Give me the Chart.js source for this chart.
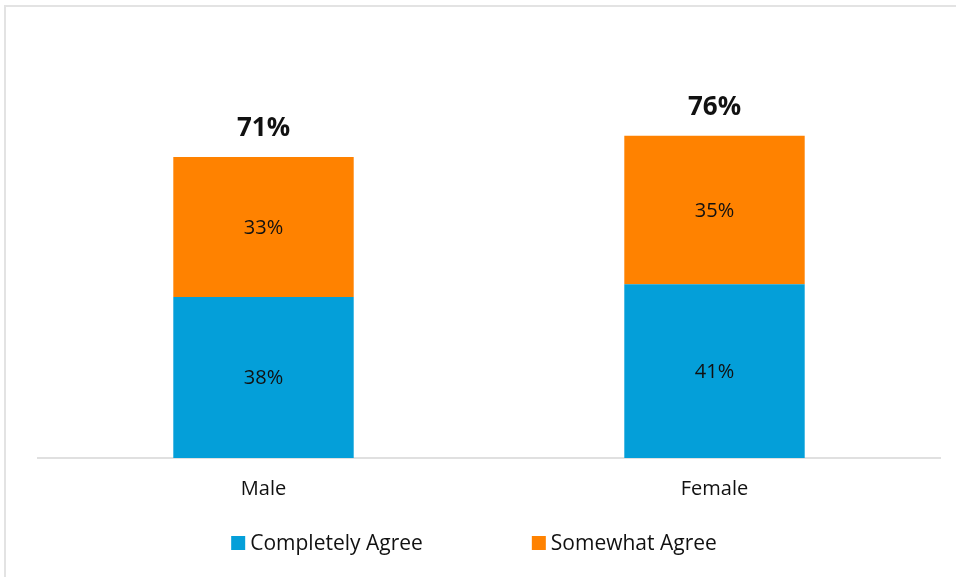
<!DOCTYPE html>
<html>
<head>
<meta charset="utf-8">
<script src="https://cdn.jsdelivr.net/npm/chart.js@4"></script>
<style>
  html, body { margin: 0; padding: 0; background: #fff; overflow: hidden; }
  #wrap { position: relative; width: 956px; height: 577px; }
  #frame { position: absolute; left: 4px; top: 5px; width: 1000px; height: 1000px; border: 2px solid #e3e3e3; box-sizing: border-box; }
  #chart { position: absolute; left: 0; top: 0; }
</style>
</head>
<body>
<div id="wrap">
  <div id="frame"></div>
  <canvas id="chart" width="956" height="577"></canvas>
</div>
<script>
const categories = ["Male", "Female"];
const seriesNames = ["Completely Agree", "Somewhat Agree"];
const completelyAgree = [38, 41];
const somewhatAgree = [33, 35];
const totals = [71, 76];
const seriesColors = ["#049fd9", "#ff8200"];

const FONT = "'Open Sans', sans-serif";

// values inside each bar segment, totals above the stack
const barLabels = {
  id: "barLabels",
  afterDatasetsDraw(chart) {
    const ctx = chart.ctx;
    ctx.save();
    ctx.textAlign = "center";
    ctx.textBaseline = "alphabetic";
    ctx.fillStyle = "#111";
    ctx.font = "20px " + FONT;
    chart.data.datasets.forEach((ds, i) => {
      chart.getDatasetMeta(i).data.forEach((bar, j) => {
        const mid = (bar.y + bar.base) / 2;
        ctx.fillText(ds.data[j] + "%", bar.x, mid + 7);
      });
    });
    const top = chart.getDatasetMeta(chart.data.datasets.length - 1).data;
    ctx.font = "bold 26px " + FONT;
    top.forEach((bar, j) => {
      ctx.fillText(totals[j] + "%", bar.x, bar.y - 21);
    });
    ctx.restore();
  }
};

// legend row under the axis
const bottomLegend = {
  id: "bottomLegend",
  afterDraw(chart) {
    const ctx = chart.ctx;
    ctx.save();
    ctx.font = "21px " + FONT;
    ctx.textBaseline = "middle";
    ctx.textAlign = "left";
    const box = 14, gap = 5, spacing = 109;
    const widths = seriesNames.map(n => ctx.measureText(n).width);
    const total = widths.reduce((a, w) => a + box + gap + w, 0) + spacing * (seriesNames.length - 1);
    let x = 474 - total / 2;
    const y = 543;
    seriesNames.forEach((n, i) => {
      ctx.fillStyle = seriesColors[i];
      ctx.fillRect(x, y - box / 2, box, box);
      ctx.fillStyle = "#111";
      ctx.fillText(n, x + box + gap, y + 1);
      x += box + gap + widths[i] + spacing;
    });
    ctx.restore();
  }
};

new Chart(document.getElementById("chart"), {
  type: "bar",
  data: {
    labels: categories,
    datasets: [
      { label: seriesNames[0], data: completelyAgree, backgroundColor: seriesColors[0] },
      { label: seriesNames[1], data: somewhatAgree, backgroundColor: seriesColors[1] }
    ]
  },
  options: {
    responsive: false,
    animation: false,
    layout: { padding: { left: 38, right: 16, top: 34, bottom: 57 } },
    datasets: { bar: { categoryPercentage: 1, barPercentage: 0.4 } },
    plugins: {
      legend: { display: false },
      tooltip: { enabled: false }
    },
    scales: {
      x: {
        stacked: true,
        grid: { display: false, drawTicks: false },
        border: { display: true, color: "#e0e0e0", width: 2 },
        ticks: { padding: 19, color: "#111", font: { family: FONT, size: 20 } }
      },
      y: {
        stacked: true,
        display: false,
        min: 0,
        max: 100
      }
    }
  },
  plugins: [barLabels, bottomLegend]
});
</script>
</body>
</html>
